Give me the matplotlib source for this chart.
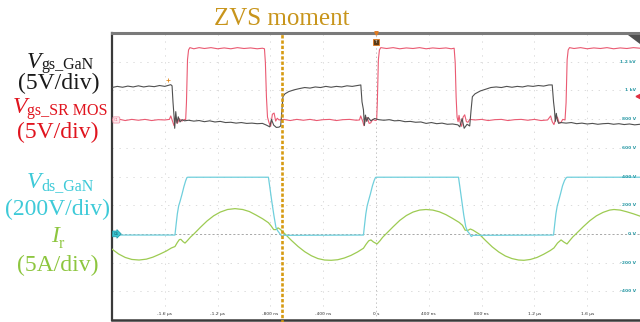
import matplotlib
matplotlib.use("Agg")
import matplotlib.pyplot as plt
import numpy as np
from matplotlib.patches import Polygon

plt.rcParams['lines.scale_dashes'] = False

# ---------------- data (time in ns) ----------------
# Vgs of SR MOSFET (V)
red_t = [-2000, -1950, -1900, -1850, -1800, -1750, -1700, -1650, -1600, -1565,
         -1555, -1540, -1530, -1518, -1505, -1490, -1470, -1450, -1442,
         -1436, -1428, -1420, -1410,
         -1380, -1340, -1300, -1250, -1200, -1150, -1100, -1050, -1000, -950, -900, -860, -845,
         -838, -830, -822,
         -810, -798, -785, -772, -760, -748, -735,
         -700, -650, -600, -550, -500, -450, -400, -350, -300, -250, -200, -150, -125,
         -116, -100, -91, -78, -66, -52, -40, -25, -5, 5,
         10, 18, 26, 36,
         80, 130, 180, 230, 280, 330, 380, 430, 480, 530, 570, 592,
         600, 607, 614,
         622, 629, 638, 649, 660, 672, 685, 697, 710,
         750, 800, 850, 900, 950, 1000, 1050, 1100, 1150, 1200, 1250, 1300,
         1323, 1335, 1348, 1362, 1374, 1386, 1399, 1415, 1432,
         1440, 1448, 1456, 1466,
         1500, 1550, 1600, 1650, 1700, 1750, 1800, 1850, 1900, 1950, 2000]
red_v = [0.0, 0.15, -0.1, 0.1, -0.05, 0.1, -0.1, 0.05, 0.0, 0.1,
         0.7, -0.3, -1.0, 0.4, -0.6, 0.2, -0.2, 0.1, 0.0,
         3.0, 10.5, 12.2, 12.6,
         12.4, 12.6, 12.45, 12.6, 12.4, 12.55, 12.4, 12.6, 12.45, 12.55, 12.4, 12.5, 12.4,
         10.0, 4.0, 0.5,
         -0.5, -1.1, 1.0, 1.2, -0.2, 0.3, 0.0,
         0.1, -0.1, 0.1, -0.05, 0.1, -0.1, 0.05, 0.1, -0.1, 0.05, 0.1, -0.05, 0.0,
         0.7, -0.3, -1.0, 0.3, 0.4, -0.6, -0.5, 0.1, -0.1, 0.0,
         3.0, 10.5, 12.2, 12.6,
         12.45, 12.6, 12.4, 12.55, 12.45, 12.6, 12.4, 12.55, 12.45, 12.55, 12.4, 12.5,
         10.0, 4.0, 0.5,
         -0.3, 0.8, -0.5, -1.1, 0.5, 0.9, -0.3, -0.4, 0.1,
         0.0, 0.1, -0.1, 0.05, 0.1, -0.1, 0.05, 0.1, -0.05, 0.1, -0.1, 0.0,
         0.7, -0.3, -0.8, 0.2, 0.5, -0.4, -0.5, 0.1, 0.0,
         3.0, 10.5, 12.2, 12.6,
         12.45, 12.6, 12.4, 12.55, 12.45, 12.6, 12.4, 12.55, 12.45, 12.6, 12.5]

# Vgs of GaN (V)
blk_t = [-2000, -1960, -1920, -1880, -1840, -1800, -1760, -1720, -1680, -1640, -1600, -1570, -1555, -1545,
         -1538, -1530, -1525, -1517, -1508, -1498, -1485, -1470, -1450,
         -1420, -1380, -1340, -1300, -1260, -1220, -1180, -1140, -1100, -1060, -1020, -980, -940, -900, -860, -830,
         -805, -792, -775, -755, -735, -722,
         -715, -705, -690, -660, -620, -583,
         -540, -500, -460, -420, -380, -340, -300, -260, -220, -180, -140, -115,
         -106, -95, -88, -80, -70, -60, -40, -10, 20,
         60, 100, 140, 180, 220, 260, 300, 340, 380, 420, 460, 500, 540, 580, 620,
         635, 652, 668, 690, 710,
         720, 730, 750, 790, 831,
         870, 910, 950, 990, 1030, 1070, 1110, 1150, 1190, 1230, 1270, 1310, 1335,
         1345, 1352, 1358, 1366, 1374, 1384, 1400,
         1440, 1480, 1520, 1560, 1600, 1640, 1680, 1720, 1760, 1800, 1840, 1880, 1920, 1960, 2000]
blk_v = [5.5, 5.7, 5.55, 5.75, 5.6, 5.8, 5.6, 5.75, 5.65, 5.85, 5.7, 5.9, 6.0, 5.8,
         3.0, 0.5, -1.6, 1.3, -0.7, 0.4, -0.5, -0.1, -0.3,
         -0.2, -0.35, -0.25, -0.45, -0.3, -0.5, -0.4, -0.6, -0.55, -0.7, -0.6, -0.75, -0.7, -0.8, -0.75, -1.05,
         -1.35, -0.05, -1.05, -1.45, -1.4, -1.2,
         1.0, 3.9, 4.4, 4.8, 5.1, 5.3,
         5.5, 5.4, 5.6, 5.5, 5.7, 5.55, 5.7, 5.6, 5.8, 5.7, 5.85, 5.95,
         3.0, 1.6, -1.1, 0.7, -0.4, 0.3, -0.3, 0.1, -0.1,
         -0.2, -0.1, -0.3, -0.25, -0.45, -0.4, -0.55, -0.5, -0.75, -0.6, -0.8, -0.7, -0.9, -0.85, -1.0,
         -1.35, 0.1, -1.6, -0.9, -1.2,
         1.5, 3.9, 4.4, 4.9, 5.2,
         5.5, 5.6, 5.5, 5.7, 5.55, 5.7, 5.6, 5.8, 5.7, 5.85, 5.75, 5.95, 5.95,
         3.0, 1.6, -0.4, 1.0, -0.2, -0.75, -0.6,
         -0.7, -0.6, -0.8, -0.7, -0.85, -0.75, -0.9, -0.8, -0.75, -0.9, -0.8, -0.95, -0.85, -1.0, -0.9]

# Vds of GaN (V)
vds_t = [-2000, -1523, -1515, -1505, -1495, -1485, -1470, -1455, -1442, -1432, -1425,
         -815, -805, -790, -773, -758, -745, -727, -712, -700,
         -95, -87, -77, -67, -57, -42, -27, -14, -4, 3,
         625, 635, 650, 665, 680, 692, 710, 722, 735,
         1345, 1353, 1363, 1373, 1383, 1398, 1413, 1428, 1440, 1447, 2000]
vds_v = [-8, -8, 60, 140, 195, 225, 275, 330, 370, 393, 395,
         395, 330, 230, 126, 45, 22, 0, -18, -10,
         -8, 60, 140, 195, 230, 280, 335, 372, 393, 395,
         395, 330, 230, 130, 50, 20, 0, -18, -10,
         -8, 60, 140, 195, 228, 280, 335, 372, 390, 395, 395]

# resonant current Ir (A)
ir_t = [-2000, -1950, -1900, -1850, -1795, -1740, -1690, -1640, -1590, -1550, -1523, -1505, -1490, -1478,
        -1462, -1447, -1430, -1405, -1379, -1330, -1280, -1230, -1180, -1125, -1068, -1010, -960, -910,
        -860, -815, -795, -775, -758, -742, -725, -690, -640, -590, -540, -490, -440, -390, -340, -290,
        -240, -190, -140, -95, -75, -55, -38, -20, 8, 30, 50, 76, 130, 180, 230, 280, 330, 379, 430,
        480, 530, 580, 630, 655, 675, 695, 715, 735, 780, 830, 880, 930, 980, 1030, 1080, 1121, 1170,
        1220, 1270, 1320, 1348, 1375, 1402, 1425, 1447, 1470, 1490, 1515, 1570, 1620, 1670, 1720, 1770,
        1803, 1850, 1900, 1950, 2000]
ir_v = [-2.65, -3.5, -4.1, -4.45, -4.55, -4.4, -4.05, -3.55, -3.0, -2.45, -2.2, -1.5, -1.0, -0.95,
        -1.35, -1.6, -1.2, -0.55, 0.0, 1.15, 2.25, 3.15, 3.8, 4.25, 4.4, 4.25, 3.9, 3.3,
        2.65, 1.95, 1.4, 0.75, 0.75, 1.05, 0.8, 0.0, -1.15, -2.2, -3.1, -3.8, -4.3, -4.55, -4.6, -4.5,
        -4.2, -3.75, -3.15, -2.5, -1.8, -1.2, -1.05, -1.4, -1.75, -1.2, -0.6, 0.0, 1.25, 2.35, 3.2, 3.8, 4.15, 4.25, 4.15,
        3.85, 3.35, 2.7, 2.0, 1.5, 0.65, 0.6, 0.85, 0.65, 0.0, -1.15, -2.25, -3.15, -3.85, -4.3, -4.55, -4.6, -4.45,
        -4.1, -3.55, -2.9, -2.45, -1.6, -1.05, -1.45, -1.75, -1.1, -0.55, 0.0, 1.25, 2.3, 3.15, 3.75, 4.15,
        4.25, 4.15, 3.85, 3.5, 3.1]

zvs_t = -712
time_ticks = [-1600, -1200, -800, -400, 0, 400, 800, 1200, 1600]
time_labels = ['-1.6 µs', '-1.2 µs', '-800 ns', '-400 ns', '0 s', '400 ns', '800 ns', '1.2 µs', '1.6 µs']
volt_ticks = [1200, 1000, 800, 600, 400, 200, 0, -200, -400]
volt_labels = ['1.2 kV', '1 kV', '800 V', '600 V', '400 V', '200 V', '0 V', '-200 V', '-400 V']

# display scaling (200 V/div screen units)
VDIV = 200.0
ir_scale = VDIV / 5.0      # 5 A/div
vg_scale = VDIV / 5.0      # 5 V/div
red_off = 3.97 * VDIV
blk_off = 4.0 * VDIV

W, H = 640, 322
fig = plt.figure(figsize=(W / 100, H / 100), dpi=100)
fig.patch.set_facecolor('white')
ax = fig.add_axes([112 / W, 2 / H, 528 / W, 287 / H])
ax.set_xlim(-2000, 2000)
ax.set_ylim(-600, 1400)
ax.set_xticks([])
ax.set_yticks([])
ax.spines['right'].set_visible(False)
ax.spines['left'].set_color('#3a3a3a'); ax.spines['left'].set_linewidth(1.6)
ax.spines['bottom'].set_color('#3a3a3a'); ax.spines['bottom'].set_linewidth(1.8)
ax.spines['top'].set_color('#7a7a7a'); ax.spines['top'].set_linewidth(2.2)

# grid
for gx in [-1600, -1200, -800, -400, 400, 800, 1200, 1600]:
    ax.axvline(gx, color='#d6d6d6', lw=0.6, ls=(0, (1, 4)), zorder=1)
for gy in [-400, -200, 200, 400, 600, 800, 1000, 1200]:
    ax.axhline(gy, color='#d6d6d6', lw=0.6, ls=(0, (1, 4)), zorder=1)
ax.axvline(0, color='#b8b8b8', lw=0.6, ls=(0, (1, 2)), zorder=1)
ax.axhline(0, color='#a8a8a8', lw=0.7, ls=(0, (1.5, 1.5)), zorder=1)

# traces
ax.plot(ir_t, np.array(ir_v) * ir_scale, color='#9dcb52', lw=0.9, zorder=3)
ax.plot(vds_t, vds_v, color='#6fcfdc', lw=0.9, zorder=3)
ax.plot(red_t, np.array(red_v) * vg_scale + red_off, color='#ea5a72', lw=0.8, zorder=3)
ax.plot(blk_t, np.array(blk_v) * vg_scale + blk_off, color='#505050', lw=0.8, zorder=4)

# ZVS line
ax.plot([zvs_t, zvs_t], [-640, 1400], color='#d69a12', lw=1.9, dashes=[2.4, 1.4],
        clip_on=False, zorder=6)

# tiny scope labels
for tx, tl in zip(time_ticks, time_labels):
    ax.text(tx, -558, tl, fontsize=3.2, color='#333333', ha='center', va='center', zorder=5)
for vy, vl in zip(volt_ticks, volt_labels):
    ax.text(1968, vy, vl, fontsize=3.2, color='#2a9aa6', ha='right', va='center', zorder=5,
            fontweight='bold')
ax.plot([1988], [960], marker='<', color='#e03040', ms=3.5, clip_on=False, zorder=5)
ax.plot([-1576], [1072], marker='+', color='#e08a20', ms=3, mew=0.6, zorder=5)

# channel tags
ax.text(-1985, red_off, 'C1', fontsize=2.6, color='#e87088', ha='left', va='center', zorder=5,
        bbox=dict(boxstyle='round,pad=0.3', fc='#fde8ec', ec='#ee8aa0', lw=0.5))
ax.text(-1990, 0, 'C4', fontsize=2.6, color='#0d5560', ha='left', va='center', zorder=5,
        bbox=dict(boxstyle='rarrow,pad=0.25', fc='#3cc4d0', ec='#1d9aa8', lw=0.5))

# trigger marker at t=0
ax.plot([0], [1340], marker='s', ms=4.2, mfc='#5a3a16', mec='#e07a20', mew=0.6, clip_on=False, zorder=7)
ax.text(0, 1340, 'T', fontsize=2.8, color='white', ha='center', va='center', zorder=8)
ax.plot([0], [1398], marker='v', ms=2.5, color='#e07a20', clip_on=False, zorder=7)

# top-right triangle
tri = Polygon([[628 / W, 1 - 35 / H], [640 / W, 1 - 35 / H], [640 / W, 1 - 44 / H]],
              closed=True, transform=fig.transFigure, fc='#505050', ec='none', zorder=10)
fig.patches.append(tri)

def fx(x):
    return x / W

def fy(y):
    return 1 - y / H

serif = 'Liberation Serif'
fs = 17
sfs = 11.5
fig.text(fx(282), fy(25), 'ZVS moment', fontsize=18, family=serif, color='#c8951c',
         ha='center', va='baseline')

def symlabel(x, y, sym, sub, color, subdx, subdy):
    fig.text(fx(x), fy(y), sym, fontsize=fs, family=serif, style='italic', color=color,
             ha='left', va='baseline')
    fig.text(fx(x + subdx), fy(y + subdy), sub, fontsize=sfs, family=serif, color=color,
             ha='left', va='baseline')

symlabel(27, 68, 'V', 'gs_GaN', '#1a1a1a', 14, 1)
fig.text(fx(59), fy(89), '(5V/div)', fontsize=fs, family=serif, color='#1a1a1a', ha='center', va='baseline')
symlabel(13, 113, 'V', 'gs_SR MOS', '#e0141e', 14, 2)
fig.text(fx(58), fy(138), '(5V/div)', fontsize=fs, family=serif, color='#e0141e', ha='center', va='baseline')
symlabel(27, 188, 'V', 'ds_GaN', '#3ecad8', 14, 2)
fig.text(fx(57), fy(215), '(200V/div)', fontsize=fs, family=serif, color='#3ecad8', ha='center', va='baseline')
symlabel(51, 242, 'I', 'r', '#8dc63f', 8, 6)
fig.text(fx(58), fy(271), '(5A/div)', fontsize=fs, family=serif, color='#8dc63f', ha='center', va='baseline')

fig.savefig('out.png', dpi=100)
